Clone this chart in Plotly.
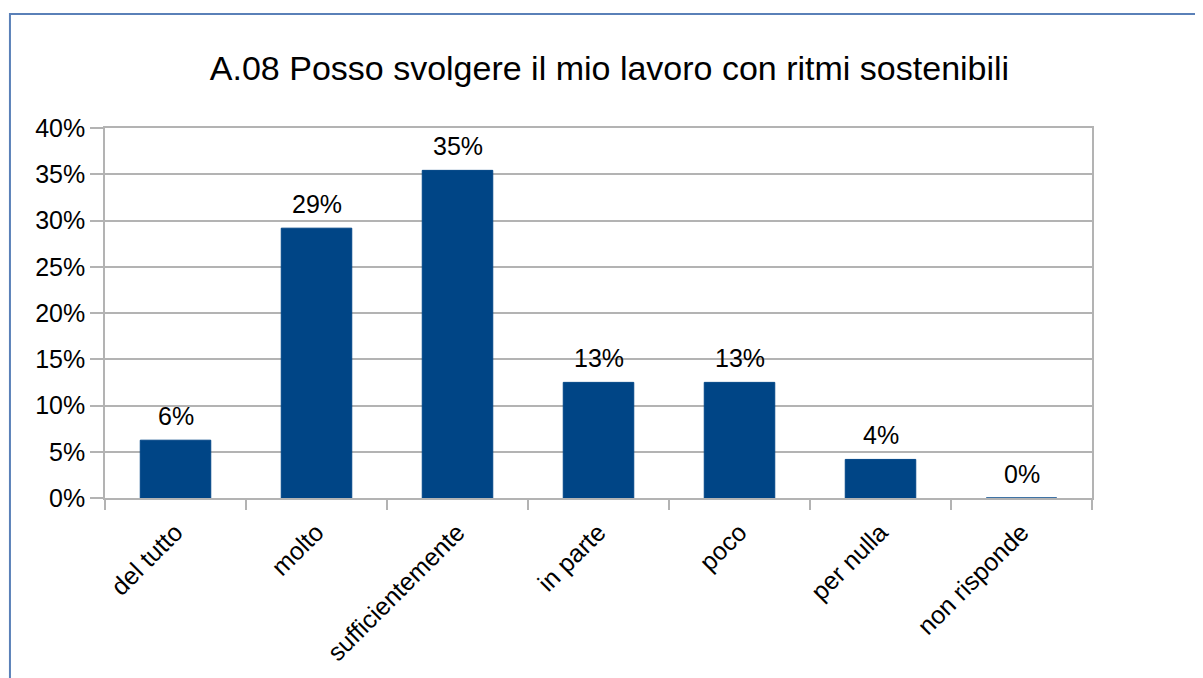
import plotly.graph_objects as go

# Dati del grafico
categorie = ["del tutto", "molto", "sufficientemente", "in parte", "poco", "per nulla", "non risponde"]
percentuali = [0.0625, 0.2917, 0.3542, 0.125, 0.125, 0.0417, 0.0]
tick_valori = [0, 0.05, 0.10, 0.15, 0.20, 0.25, 0.30, 0.35, 0.40]
tick_testi = ["0%", "5%", "10%", "15%", "20%", "25%", "30%", "35%", "40%"]

titolo = "A.08 Posso svolgere il mio lavoro con ritmi sostenibili"

fig = go.Figure()

fig.add_trace(go.Bar(
    x=categorie,
    y=percentuali,
    marker=dict(color="#004586", line=dict(color="#004586", width=1)),
    cliponaxis=False,
    hovertemplate="<b>%{x}</b><br>%{y:.1%}<extra></extra>"
))

# etichette dei valori sopra le barre
for cat, val in zip(categorie, percentuali):
    fig.add_annotation(
        x=cat, y=val,
        text=f"{round(val * 100 + 1e-9):.0f}%",
        showarrow=False,
        yanchor="bottom",
        yshift=8,
        font=dict(size=25, color="#000000", family="Liberation Sans")
    )

# la pagina html ha un margine di 8px: compensato nei margini
fig.update_layout(
    title=dict(
        text=titolo,
        x=0.5,
        xanchor="center",
        y=0.912,
        yanchor="middle",
        font=dict(size=34, color="#000000", family="Liberation Sans")
    ),
    width=1203,
    height=678,
    paper_bgcolor="white",
    plot_bgcolor="white",
    bargap=0.5,
    showlegend=False,
    margin=dict(l=97, r=119, t=120, b=188),
    font=dict(family="Liberation Sans", size=25, color="#000000"),
    shapes=[dict(
        type="rect",
        xref="paper", yref="paper",
        x0=-0.0963, x1=1.3, y0=-0.7, y1=1.308,
        line=dict(color="#5a80b8", width=2),
        fillcolor="rgba(0,0,0,0)",
        layer="below"
    )]
)

fig.update_yaxes(
    range=[0, 0.40],
    tickvals=tick_valori,
    ticktext=tick_testi,
    showgrid=True,
    gridcolor="#b3b3b3",
    gridwidth=1.5,
    zeroline=False,
    showline=True,
    linecolor="#b3b3b3",
    linewidth=1.5,
    mirror=True,
    ticks="outside",
    ticklen=13,
    tickcolor="#b3b3b3",
    tickwidth=1.5,
    tickfont=dict(size=25, color="#000000")
)

fig.update_xaxes(
    showline=True,
    linecolor="#b3b3b3",
    linewidth=1.5,
    mirror=True,
    ticks="outside",
    tickson="boundaries",
    ticklen=10,
    tickcolor="#b3b3b3",
    tickwidth=1.5,
    tickangle=-45,
    ticklabelstandoff=8,
    tickfont=dict(size=25, color="#000000")
)

fig.write_html("out.html")
